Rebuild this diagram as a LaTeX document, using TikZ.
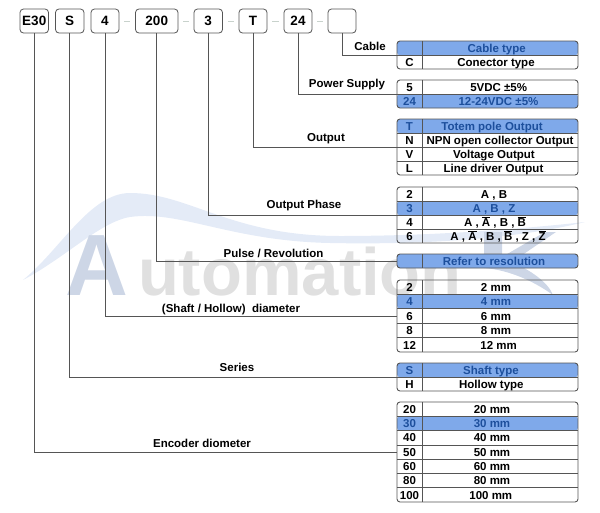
\documentclass[tikz,border=0pt]{standalone}
\usepackage{fontspec}
\setmainfont{Liberation Sans}
\usetikzlibrary{positioning}
\usetikzlibrary{calc}
\definecolor{rowblue}{HTML}{7FA9EA}
\definecolor{rowtext}{HTML}{1D4F9C}
\definecolor{linegray}{HTML}{555555}
\definecolor{swooshblue}{HTML}{E4EBF7}
\definecolor{markgray}{HTML}{E0E0E0}
\definecolor{markblue}{HTML}{CDD6E6}
\definecolor{dashgray}{HTML}{C8D2CC}
\tikzstyle{codebox}=[draw=linegray,line width=0.8pt,rounded corners=3.5pt,minimum height=24pt,inner sep=0pt,font=\fontsize{13.5}{15}\bfseries\selectfont]
\tikzstyle{tablebox}=[draw=linegray,line width=0.9pt,rounded corners=3pt,minimum width=181pt,inner sep=0pt]
\tikzstyle{keycell}=[minimum width=25pt,minimum height=14pt,inner sep=0pt,text height=8.5pt,text depth=0pt,font=\fontsize{11.5}{13}\bfseries\selectfont]
\tikzstyle{valcell}=[inner sep=0pt,text height=8.5pt,text depth=0pt,font=\fontsize{11.5}{13}\bfseries\selectfont]
\tikzstyle{plain}=[text=black]
\tikzstyle{hot}=[text=rowtext]
\tikzstyle{wire}=[draw=linegray,line width=1pt]
\tikzstyle{rule}=[draw=linegray,line width=0.8pt]
\tikzstyle{spacer}=[draw=dashgray,line width=1pt]
\tikzstyle{caption}=[inner sep=0pt,text height=8.5pt,text depth=0pt,font=\fontsize{11.5}{13}\bfseries\selectfont]
\tikzset{bluerow/.style={path picture={\fill[rowblue] ($(path picture bounding box.north west)+(0,#1)$) rectangle +(181,14.3);}}}
\newcommand{\barred}[1]{$\overline{\mbox{#1}}$}

\begin{document}
\begin{tikzpicture}[x=1pt,y=-1pt]
    \useasboundingbox (0,0) rectangle (600,512);

    % Watermark behind everything
    \fill[swooshblue] (23,280) .. controls (60,250) and (90,193) .. (130,193)
        .. controls (190,193) and (230,236) .. (340,236)
        .. controls (440,236) and (530,228) .. (585,222)
        .. controls (520,238) and (430,245) .. (330,243)
        .. controls (230,241) and (180,210) .. (130,217)
        .. controls (100,222) and (65,258) .. (23,280) -- cycle;
    \node[anchor=base west,inner sep=0pt,text=markgray,font=\fontsize{67}{67}\bfseries\selectfont] (mark) at (65,295) {\textcolor{markblue}{\fontsize{87}{87}\selectfont A}\hspace{10pt}utomation};
    \fill[markblue] (484,232) -- (502,232) -- (502,257) -- (545,232) -- (556,232) -- (512,262) .. controls (530,270) and (548,282) .. (553,295) .. controls (535,282) and (510,270) .. (484,268) -- cycle;

    % First we draw the code boxes
    \foreach \pos/\boxw/\name/\label in {{(34.25,21)/28.5/e30/E30}, {(69.75,21)/28.5/series/S}, {(105,21)/28/shaft/4}, {(156.75,21)/42.5/pulse/200}, {(208.25,21)/28.5/phase/3}, {(253,21)/28/output/T}, {(298,21)/28/power/24}, {(342,21)/28/cable/{}}}
        \node[codebox,minimum width=\boxw pt] (\name) at \pos {\label};

    \foreach \source/\dest in {shaft/pulse, pulse/phase, phase/output, output/power, power/cable}
        \draw[spacer] ([xshift=5pt]\source.east) -- ([xshift=-5pt]\dest.west);

    % Then the frames of the tables
    \node[tablebox,bluerow=0,minimum height=28pt] (tcable) at (487.5,55) {};
    \node[tablebox,bluerow=14,minimum height=28pt] (tpower) at (487.5,94) {};
    \node[tablebox,bluerow=0,minimum height=56pt] (toutput) at (487.5,147) {};
    \node[tablebox,bluerow=14,minimum height=56pt] (tphase) at (487.5,215) {};
    \node[tablebox,bluerow=0,minimum height=14pt] (tpulse) at (487.5,261) {};
    \node[tablebox,bluerow=14.3,minimum height=72pt] (tshaft) at (487.5,316) {};
    \node[tablebox,bluerow=0,minimum height=28pt] (tseries) at (487.5,377) {};
    \node[tablebox,bluerow=14.3,minimum height=100pt] (tenc) at (487.5,452) {};

    % The rows
    \foreach \y/\xc/\name/\key/\val/\tone in {{48/496.7/ca/{}/Cable type/hot}, {62/496/cb/C/Conector type/plain},
        {87/498.7/pa/5/5VDC ±5\%/plain}, {101/498.5/pb/24/12-24VDC ±5\%/hot},
        {126/492/oa/T/Totem pole Output/hot}, {140/500/ob/N/NPN open collector Output/plain}, {154/494/oc/V/Voltage Output/plain}, {168/493.5/od/L/Line driver Output/plain},
        {194/494/fa/2/{A , B}/plain}, {208/494/fb/3/{A , B , Z}/hot}, {222/495/fc/4/{A , \barred{A} , B , \barred{B}}/plain}, {236/498/fd/6/{A , \barred{A} , B , \barred{B} , Z , \barred{Z}}/plain},
        {261/494/ra/{}/Refer to resolution/hot},
        {287.2/496/sa/2/2 mm/plain}, {301.6/496/sb/4/4 mm/hot}, {316/496/sc/6/6 mm/plain}, {330.4/496/sd/8/8 mm/plain}, {344.8/498.7/se/12/12 mm/plain},
        {370/491/ta/S/Shaft type/hot}, {384/491.3/tb/H/Hollow type/plain},
        {409.1/492/ea/20/20 mm/plain}, {423.4/492/eb/30/30 mm/hot}, {437.7/492/ec/40/40 mm/plain}, {452/492/ed/50/50 mm/plain}, {466.3/492/ee/60/60 mm/plain}, {480.6/492/ef/80/80 mm/plain}, {494.9/490.8/eg/100/100 mm/plain}}
    {
        \node[keycell,\tone] (k\name) at (409.5,\y) {\key};
        \node[valcell,\tone] (v\name) at (\xc,\y) {\val};
    }

    % Row rules and the column rule of each table
    \foreach \name in {ca, pa, oa, ob, oc, fa, fb, fc, sa, sb, sc, sd, ta, ea, eb, ec, ed, ee, ef}
        \draw[rule] (k\name.south west) -- (k\name.south -| tcable.east);
    \foreach \source/\dest in {ca/cb, pa/pb, oa/od, fa/fd, ra/ra, sa/se, ta/tb, ea/eg}
        \draw[rule] (k\source.north east) -- (k\dest.south east);

    % Connect code boxes with tables
    \foreach \source/\dest in {e30/tenc, series/tseries, shaft/tshaft, pulse/tpulse, phase/tphase, output/toutput, power/tpower, cable/tcable}
        \draw[wire] (\source.south) |- (\dest.west);

    \foreach \pos/\name/\label in {{(370,46)/lcable/Cable}, {(347,83)/lpower/Power Supply}, {(326,137)/loutput/Output}, {(304,204)/lphase/Output Phase}, {(273.5,253)/lpulse/{Pulse / Revolution}}, {(231,308)/lshaft/{(Shaft / Hollow)\ \ diameter}}, {(237,367)/lseries/Series}, {(202,443)/lenc/Encoder diometer}}
        \node[caption] (\name) at \pos {\label};
\end{tikzpicture}
\end{document}
